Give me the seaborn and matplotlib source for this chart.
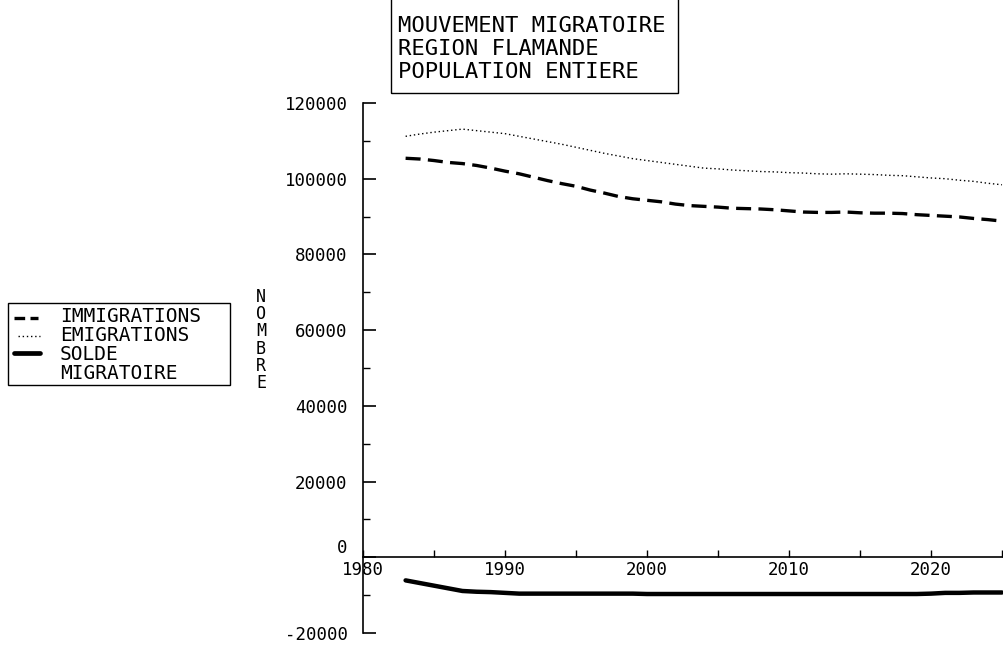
import matplotlib
matplotlib.use("Agg")
import matplotlib.pyplot as plt
import seaborn as sns
import pandas as pd
from matplotlib.patches import Rectangle
from matplotlib.lines import Line2D
from matplotlib.ticker import MultipleLocator

# Values (one point per year)
years = list(range(1983, 2026))
immigrations = [
    105400, 105200, 104800, 104300, 104000, 103500, 102800, 102000, 101300, 100400,
    99500, 98700, 98000, 97000, 96200, 95300, 94700, 94300, 93900, 93300,
    92900, 92700, 92500, 92200, 92100, 92000, 91800, 91500, 91200, 91100,
    91100, 91200, 91000, 90900, 90900, 90800, 90500, 90300, 90100, 89900,
    89500, 89200, 88800,
]
emigrations = [
    111200, 111800, 112300, 112700, 113100, 112700, 112300, 111900, 111200, 110500,
    109800, 109100, 108300, 107500, 106700, 106000, 105300, 104800, 104300, 103800,
    103300, 102800, 102600, 102300, 102100, 101900, 101800, 101600, 101500, 101300,
    101200, 101300, 101200, 101100, 100900, 100800, 100500, 100200, 100000, 99600,
    99300, 98800, 98400,
]
solde = [
    -6100, -6800, -7500, -8200, -8900, -9100, -9200, -9400, -9600, -9600,
    -9600, -9600, -9600, -9600, -9600, -9600, -9600, -9700, -9700, -9700,
    -9700, -9700, -9700, -9700, -9700, -9700, -9700, -9700, -9700, -9700,
    -9700, -9700, -9700, -9700, -9700, -9700, -9700, -9600, -9400, -9400,
    -9300, -9300, -9300,
]

title_lines = ["MOUVEMENT MIGRATOIRE", "REGION FLAMANDE", "POPULATION ENTIERE"]
legend_labels = ["IMMIGRATIONS", "EMIGRATIONS", "SOLDE", "MIGRATOIRE"]
y_ticks = [-20000, 0, 20000, 40000, 60000, 80000, 100000, 120000]
y_labels = ["-20000", "0", "20000", "40000", "60000", "80000", "100000", "120000"]
x_ticks = [1980, 1990, 2000, 2010, 2020]

df = pd.DataFrame({"year": years, "imm": immigrations, "emi": emigrations, "solde": solde})

sns.set_style("white")
plt.rcParams["font.family"] = ["DejaVu Sans Mono", "DejaVu Sans"]
plt.rcParams["text.color"] = "black"
plt.rcParams["xtick.color"] = "black"
plt.rcParams["ytick.color"] = "black"

W, H = 1004, 648
fig = plt.figure(figsize=(W / 100, H / 100), dpi=100)
ax = fig.add_axes([363 / W, 1 - 633 / H, 1 - 363 / W, (633 - 103) / H])

dash_style = (0, (4.5, 2.2))
dot_style = (0, (1, 2))
sns.lineplot(data=df, x="year", y="imm", ax=ax, color="black", lw=2.4,
             linestyle=dash_style, legend=False)
sns.lineplot(data=df, x="year", y="emi", ax=ax, color="black", lw=1.0,
             linestyle=dot_style, legend=False)
sns.lineplot(data=df, x="year", y="solde", ax=ax, color="black", lw=3.2,
             linestyle="-", legend=False)

ax.set_xlim(1980, 1980 + 641 / 14.2)
ax.set_ylim(-20000, 120000)
ax.set_xlabel("")
ax.set_ylabel("")

for s in ["top", "right"]:
    ax.spines[s].set_visible(False)
ax.spines["bottom"].set_position(("data", 0))
for s in ["left", "bottom"]:
    ax.spines[s].set_color("black")
    ax.spines[s].set_linewidth(1.2)

ax.set_yticks(y_ticks)
ax.set_yticklabels(y_labels)
ax.yaxis.set_minor_locator(MultipleLocator(10000))
ax.set_xticks(x_ticks)
ax.set_xticklabels([str(x) for x in x_ticks])
ax.xaxis.set_minor_locator(MultipleLocator(5))
ax.tick_params(axis="y", which="major", direction="in", length=9, width=1.2,
               pad=11, labelsize=12.5, left=True)
ax.tick_params(axis="y", which="minor", direction="in", length=5, width=1.0, left=True)
ax.tick_params(axis="x", which="both", direction="in", length=5, width=1.0,
               pad=3, labelsize=12.5, bottom=True)
for lab in ax.get_yticklabels():
    if lab.get_text() == "0":
        lab.set_va("bottom")
ax.grid(False)

# legend box on the left, laid out like the plotter one
fig.patches.append(Rectangle((8 / W, 1 - 385 / H), 222 / W, 82 / H,
                             transform=fig.transFigure, fill=False,
                             edgecolor="black", lw=1.0))
handles = [
    (318, dict(lw=2.4, ls=(0, (3.2, 1.6))), 14, 38),
    (335.5, dict(lw=1.0, ls=dot_style), 18, 40),
    (353, dict(lw=3.4, ls="-"), 14, 40),
]
for yy, style, x0, x1 in handles:
    fig.add_artist(Line2D([x0 / W, x1 / W], [1 - yy / H, 1 - yy / H],
                          transform=fig.transFigure, color="black", **style))
fig.text(60 / W, 1 - 345 / H, "\n".join(legend_labels), ha="left", va="center",
         fontsize=14, linespacing=0.98)

# vertical axis title
fig.text(261 / W, 1 - 340 / H, "N\nO\nM\nB\nR\nE", ha="center", va="center",
         fontsize=12, linespacing=0.95)

# title box
fig.patches.append(Rectangle((391 / W, 1 - 93 / H), 287 / W, 100 / H,
                             transform=fig.transFigure, fill=False,
                             edgecolor="black", lw=1.0))
fig.text(398 / W, 1 - 49 / H, "\n".join(title_lines), ha="left", va="center",
         fontsize=16, linespacing=1.18)

fig.savefig("out.png", dpi=100)
